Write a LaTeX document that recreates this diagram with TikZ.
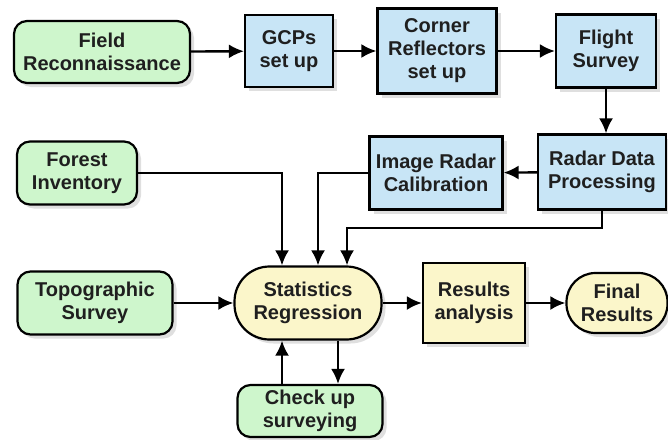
\documentclass[tikz,border=0pt]{standalone}
\usepackage{fontspec}
\setmainfont{Liberation Sans}
\usepackage{tikz}
\usetikzlibrary{arrows.meta,shadows}
\definecolor{fieldgreen}{RGB}{206,246,204}
\definecolor{radarblue}{RGB}{200,229,246}
\definecolor{resultyellow}{RGB}{251,246,202}

\begin{document}
\begin{tikzpicture}[x=1pt,y=-1pt]
\tikzset{box/.style = {shape=rectangle,draw,line width=2.2pt,align=center,inner sep=0pt,
  font=\fontsize{20}{23}\selectfont\bfseries,text=black!88,
  drop shadow={shadow xshift=4pt,shadow yshift=-4pt,fill=black!25}}}
\tikzset{green/.style = {box,rounded corners=13pt,fill=fieldgreen}}
\tikzset{blue/.style = {box,fill=radarblue}}
\tikzset{yellow/.style = {box,fill=resultyellow}}
\tikzset{edge/.style = {->,> = {Latex[length=15pt,width=14pt]},line width=2.4pt}}
\useasboundingbox (0,0) rectangle (668,439);
% vertices
\node[green,minimum width=176pt,minimum height=62pt] (field) at (102,52) {Field\\Reconnaissance};
\node[blue,minimum width=88pt,minimum height=72pt] (gcps) at (289,51) {GCPs\\set up};
\node[blue,minimum width=119pt,minimum height=85pt] (corner) at (437,51) {Corner\\Reflectors\\set up};
\node[blue,minimum width=100pt,minimum height=73pt] (flight) at (606,51) {Flight\\Survey};
\node[blue,minimum width=128pt,minimum height=75pt] (radar) at (602,172) {Radar Data\\Processing};
\node[blue,minimum width=133pt,minimum height=73pt] (calib) at (436,173) {Image Radar\\Calibration};
\node[green,minimum width=120pt,minimum height=63pt] (forest) at (77,173) {Forest\\Inventory};
\node[green,minimum width=155pt,minimum height=63pt] (topo) at (95,303) {Topographic\\Survey};
\node[yellow,rounded corners=35pt,minimum width=147pt,minimum height=73pt] (stats) at (308,303) {Statistics\\Regression};
\node[green,minimum width=145pt,minimum height=52pt] (check) at (310,411) {Check up\\surveying};
\node[yellow,minimum width=102pt,minimum height=80pt] (results) at (474,303) {Results\\analysis};
\node[yellow,rounded corners=29pt,minimum width=101pt,minimum height=60pt] (final) at (617,303) {Final\\Results};
\coordinate (bend) at (602,228);
%edges
\draw[edge] (field) to (gcps);
\draw[edge] (gcps) to (corner);
\draw[edge] (corner) to (flight);
\draw[edge] (flight.south) -- (flight.south |- radar.north);
\draw[edge] (radar) to (calib);
\draw[edge] (forest.east) -| ([xshift=-26pt]stats.north);
\draw[edge] (calib.west) -| ([xshift=10pt]stats.north);
\draw[edge] (radar.south) -- (bend) -| ([xshift=39pt]stats.north);
\draw[edge] (topo) to (stats);
\draw[edge] (stats) to (results);
\draw[edge] (results) to (final);
\draw[edge] ([xshift=-28pt]check.north) -- ([xshift=-28pt]check.north |- stats.south);
\draw[edge] ([xshift=30pt]stats.south) -- ([xshift=30pt]stats.south |- check.north);
\end{tikzpicture}
\end{document}
